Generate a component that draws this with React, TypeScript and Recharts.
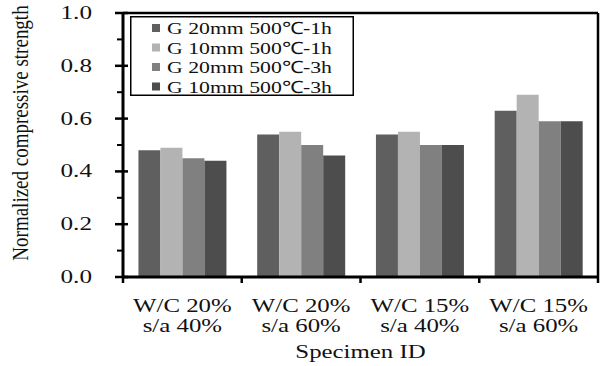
import React from "react";
import {
  BarChart,
  Bar,
  XAxis,
  YAxis,
  Legend,
  ReferenceLine,
} from "recharts";

// specimen groups (two-line labels)
const categories = ["W/C 20%|s/a 40%", "W/C 20%|s/a 60%", "W/C 15%|s/a 40%", "W/C 15%|s/a 60%"];

const g20_1h = [0.48, 0.54, 0.54, 0.63];
const g10_1h = [0.49, 0.55, 0.55, 0.69];
const g20_3h = [0.45, 0.5, 0.5, 0.59];
const g10_3h = [0.44, 0.46, 0.5, 0.59];

const seriesNames = ["G 20mm 500℃-1h", "G 10mm 500℃-1h", "G 20mm 500℃-3h", "G 10mm 500℃-3h"];
const seriesKeys = ["g20_1h", "g10_1h", "g20_3h", "g10_3h"];
const colors = ["#5f5f5f", "#b3b3b3", "#808080", "#4d4d4d"];

const yTicks = [0, 0.1, 0.2, 0.3, 0.4, 0.5, 0.6, 0.7, 0.8, 0.9, 1.0];

const data = categories.map((c, i) => ({
  name: c,
  g20_1h: g20_1h[i],
  g10_1h: g10_1h[i],
  g20_3h: g20_3h[i],
  g10_3h: g10_3h[i],
}));

const FONT = "'Liberation Serif', 'Times New Roman', serif";
const SX = 1.38;

const YTick = (props: any) => {
  const { x, y, payload } = props;
  const v = payload.value;
  const major = Math.round(v * 10) % 2 === 0;
  if (!major) {
    return <line x1={x - 6} x2={x} y1={y} y2={y} stroke="#000" strokeWidth={2} />;
  }
  return (
    <g>
      <line x1={x - 8} x2={x + 5} y1={y} y2={y} stroke="#000" strokeWidth={2.5} />
      <text
        transform={`translate(${x - 31},${y + 6}) scale(1.4,1)`}
        textAnchor="end"
        fontFamily={FONT}
        fontSize={18}
        fill="#111"
      >
        {v.toFixed(1)}
      </text>
    </g>
  );
};

const XTick = (props: any) => {
  const { x, y, payload, index, width } = props;
  const band = (width ?? 475) / categories.length;
  const [l1, l2] = String(payload.value).split("|");
  return (
    <g>
      <line x1={x - band / 2} x2={x - band / 2} y1={y} y2={y + 6} stroke="#000" strokeWidth={2.5} />
      {index === categories.length - 1 && (
        <line x1={x + band / 2} x2={x + band / 2} y1={y} y2={y + 6} stroke="#000" strokeWidth={2.5} />
      )}
      <text transform={`translate(${x},${y + 35}) scale(${SX},1)`} textAnchor="middle" fontFamily={FONT} fontSize={18} fill="#111">
        {l1}
      </text>
      <text transform={`translate(${x},${y + 55}) scale(${SX},1)`} textAnchor="middle" fontFamily={FONT} fontSize={18} fill="#111">
        {l2}
      </text>
    </g>
  );
};

const XTitle = (props: any) => {
  const vb = props.viewBox || {};
  const cx = vb.x + vb.width / 2;
  return (
    <text transform={`translate(${cx},${vb.y + 81}) scale(${SX},1)`} textAnchor="middle" fontFamily={FONT} fontSize={18} fill="#111">
      Specimen ID
    </text>
  );
};

const YTitle = (props: any) => {
  const vb = props.viewBox || {};
  const cy = vb.y + vb.height / 2;
  return (
    <text
      transform={`translate(${28},${cy - 12}) scale(1.25,1) rotate(-90)`}
      textAnchor="middle"
      fontFamily={FONT}
      fontSize={19}
      fill="#111"
    >
      Normalized compressive strength
    </text>
  );
};

const LegendBox = () => {
  const base = [18, 37.5, 57, 76.5];
  return (
    <svg width={224} height={80} style={{ display: "block" }}>
      <rect x={0.75} y={0.75} width={222.5} height={78.5} fill="#fff" stroke="#000" strokeWidth={1.5} />
      {seriesNames.map((n, i) => (
        <g key={n}>
          <rect x={22} y={base[i] - 10} width={8} height={8} fill={colors[i]} />
          <text
            transform={`translate(37,${base[i]}) scale(1.28,1)`}
            fontFamily={FONT}
            fontSize={17}
            fill="#111"
          >
            {n}
          </text>
        </g>
      ))}
    </svg>
  );
};

const App = () => {
  return (
    <div style={{ position: "absolute", left: 0, top: 0, background: "#fff" }}>
      <BarChart
        width={604}
        height={366}
        data={data}
        margin={{ top: 13, right: 5, bottom: 0, left: 0 }}
        barCategoryGap="13%"
        barGap={0}
      >
        <XAxis
          dataKey="name"
          height={89}
          axisLine={{ stroke: "#000", strokeWidth: 3 }}
          tickLine={false}
          tickSize={0}
          tickMargin={0}
          tick={<XTick />}
          interval={0}
          label={<XTitle />}
        />
        <YAxis
          width={123}
          domain={[0, 1]}
          ticks={yTicks}
          interval={0}
          axisLine={{ stroke: "#000", strokeWidth: 3 }}
          tickLine={false}
          tickSize={0}
          tickMargin={0}
          tick={<YTick />}
          label={<YTitle />}
        />
        <YAxis
          yAxisId="frame"
          orientation="right"
          width={1}
          domain={[0, 1]}
          tick={false}
          tickLine={false}
          axisLine={{ stroke: "#000", strokeWidth: 2.5 }}
        />
        <ReferenceLine y={1} stroke="#000" strokeWidth={2.5} ifOverflow="visible" />
        <Legend
          layout="vertical"
          align="center"
          verticalAlign="middle"
          content={<LegendBox />}
          wrapperStyle={{ position: "absolute", left: 130, top: 16, width: 224, height: 80 }}
        />
        {seriesKeys.map((k, i) => (
          <Bar key={k} dataKey={k} name={seriesNames[i]} fill={colors[i]} isAnimationActive={false} />
        ))}
      </BarChart>
    </div>
  );
};

export default App;
